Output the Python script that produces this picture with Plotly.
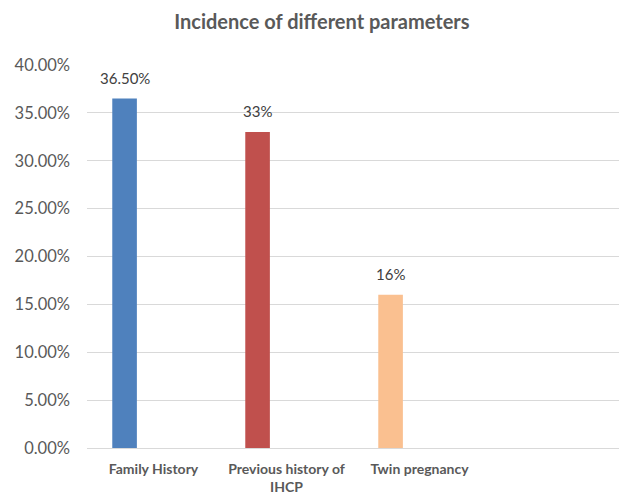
import plotly.graph_objects as go

categories = ["Family History", "Previous history of<br>IHCP", "Twin pregnancy"]
values = [0.365, 0.33, 0.16]
value_labels = ["36.50%", "33%", "16%"]
colors = ["#4F81BD", "#C0504D", "#FAC090"]
y_ticks = [0, 0.05, 0.10, 0.15, 0.20, 0.25, 0.30, 0.35, 0.40]

x_pos = list(range(len(categories)))
bar_offset = -0.31
bar_width = 0.185

fig = go.Figure()
fig.add_trace(go.Bar(
    x=x_pos, y=values, width=bar_width, offset=bar_offset,
    marker=dict(color=colors, line=dict(width=0)),
    showlegend=False, hoverinfo="skip",
))

for xi, v, lab in zip(x_pos, values, value_labels):
    fig.add_annotation(
        x=xi + bar_offset + bar_width / 2, y=v, xref="x", yref="y",
        text=lab, showarrow=False, yshift=21, yanchor="middle",
        font=dict(family="Lato", size=15, color="#404040"),
    )

fig.update_layout(
    width=619, height=495,
    margin=dict(l=87, r=0, t=64.5, b=46.5),
    paper_bgcolor="white", plot_bgcolor="white",
    title=dict(
        text="<b>Incidence of different parameters</b>",
        x=0.52, xanchor="center", y=1 - 22 / 495, yanchor="middle",
        font=dict(family="Lato", size=20, color="#595959"),
    ),
    xaxis=dict(
        range=[-0.5, 3.5], tickvals=x_pos, ticktext=["<b>%s</b>" % c for c in categories],
        showgrid=False, zeroline=False, showline=True, linecolor="#d9d9d9", linewidth=1,
        ticks="", ticklabelstandoff=8,
        tickfont=dict(family="Lato", size=14, color="#595959"),
    ),
    yaxis=dict(
        range=[0, 0.4], tickvals=y_ticks, tickformat=".2%",
        showgrid=True, gridcolor="#d9d9d9", gridwidth=1, zeroline=False,
        showline=False, ticks="", ticklen=0, ticklabelstandoff=16,
        tickfont=dict(family="Lato", size=16.5, color="#595959"),
    ),
)

fig.write_html("out.html")
